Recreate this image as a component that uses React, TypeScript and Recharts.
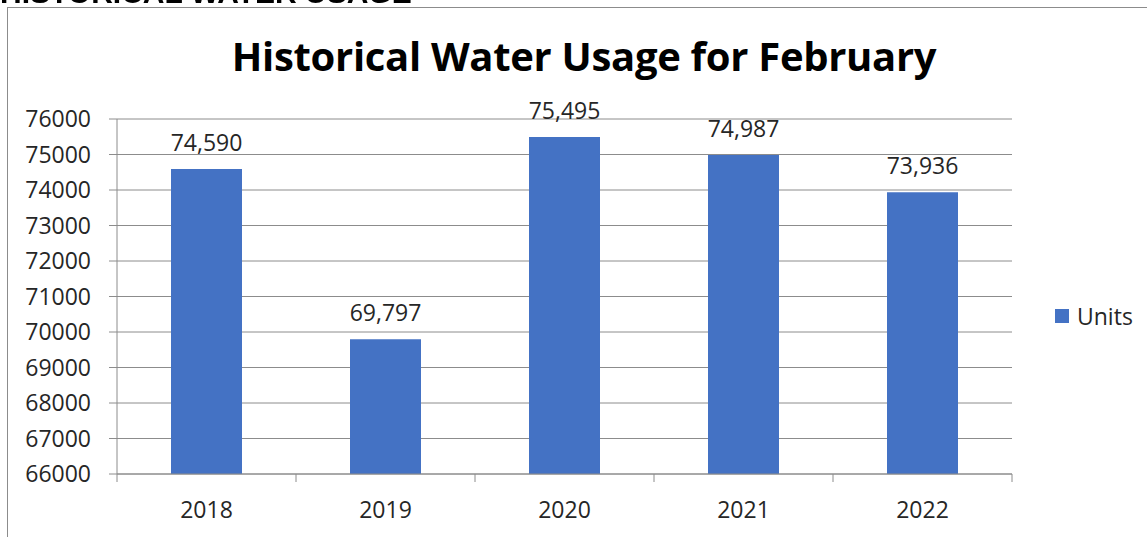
import React from 'react';
import { BarChart, Bar, XAxis, YAxis, CartesianGrid, LabelList } from 'recharts';

const years = ['2018', '2019', '2020', '2021', '2022'];
const units = [74590, 69797, 75495, 74987, 73936];
const yTicks = [66000, 67000, 68000, 69000, 70000, 71000, 72000, 73000, 74000, 75000, 76000];
const seriesName = 'Units';
const chartTitle = 'Historical Water Usage for February';
const headerText = 'HISTORICAL WATER USAGE';

const data = years.map((y, i) => ({ year: y, Units: units[i] }));

const FONT = '"Open Sans", sans-serif';
const FS = 23;
const W = 1139;
const H = 529;
const M = { top: 111, right: 135, bottom: 13, left: 0 };
const YW = 109;
const BAND = (W - M.left - M.right - YW) / years.length;

const XTick = (props: any) => {
  const { x, y, payload, index } = props;
  return (
    <g>
      <line x1={x - BAND / 2} y1={y} x2={x - BAND / 2} y2={y + 8} stroke="#8c8c8c" />
      {index === years.length - 1 && (
        <line x1={x + BAND / 2} y1={y} x2={x + BAND / 2} y2={y + 8} stroke="#8c8c8c" />
      )}
      <text x={x} y={y + 44} textAnchor="middle" fontFamily={FONT} fontSize={FS} fill="#262626">
        {payload.value}
      </text>
    </g>
  );
};

export default function App() {
  return (
    <div style={{ position: 'relative', width: W, height: H }}>
      <svg
        style={{ position: 'fixed', left: 0, top: 0, pointerEvents: 'none', zIndex: 10 }}
        width={1147}
        height={537}
      >
        <text x={0} y={3} fontFamily='"Liberation Sans", Arial, sans-serif' fontWeight="bold" fontSize={30} fill="#000">
          {headerText}
        </text>
        <rect x={7.5} y={7.5} width={1200} height={600} fill="none" stroke="#8c8c8c" strokeWidth={1} />
      </svg>
      <svg style={{ position: 'absolute', left: 0, top: 0 }} width={W} height={80}>
        <text x={576} y={63} textAnchor="middle" fontFamily={FONT} fontWeight="bold" fontSize={40} letterSpacing={-0.3} fill="#000">
          {chartTitle}
        </text>
      </svg>
      <BarChart width={W} height={H} data={data} margin={M}>
        <CartesianGrid vertical={false} stroke="#8c8c8c" />
        <XAxis
          dataKey="year"
          height={50}
          stroke="#8c8c8c"
          tickLine={false}
          tickSize={0}
          tickMargin={0}
          tick={<XTick />}
          interval={0}
        />
        <YAxis
          width={YW}
          domain={[66000, 76000]}
          ticks={yTicks}
          interval={0}
          stroke="#8c8c8c"
          tickSize={8}
          tickMargin={18}
          tick={{ fontFamily: FONT, fontSize: FS, fill: '#262626' }}
        />
        <Bar dataKey="Units" name={seriesName} fill="#4472C4" isAnimationActive={false} barSize={71}>
          <LabelList
            dataKey="Units"
            position="top"
            offset={18}
            formatter={(v: any) => Number(v).toLocaleString('en-US')}
            style={{ fontFamily: FONT, fontSize: FS, fill: '#262626' }}
          />
        </Bar>
      </BarChart>
      <div
        style={{
          position: 'absolute',
          left: 1047,
          top: 294,
          display: 'flex',
          alignItems: 'center',
          fontFamily: FONT,
          fontSize: FS,
          color: '#262626',
          lineHeight: '28px',
        }}
      >
        <div style={{ width: 14, height: 14, background: '#4472C4', marginRight: 8 }} />
        <span>{seriesName}</span>
      </div>
    </div>
  );
}
